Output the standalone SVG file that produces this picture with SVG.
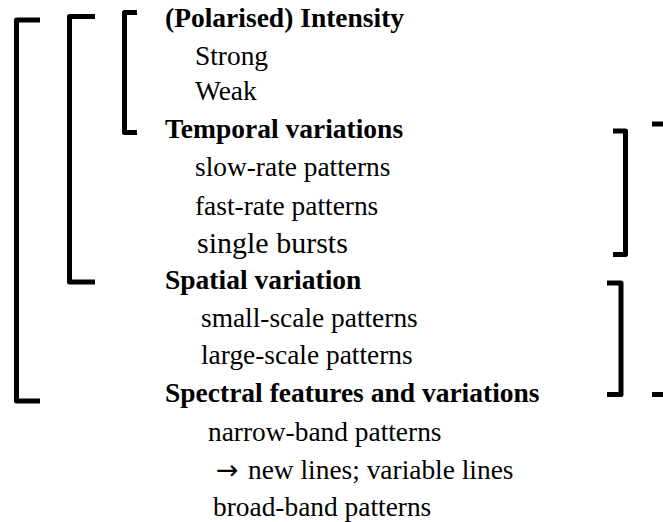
<svg xmlns="http://www.w3.org/2000/svg" width="663" height="522" viewBox="0 0 663 522">
  <style>
    .br { fill: none; stroke: #000; stroke-width: 5; stroke-linejoin: round; stroke-linecap: butt; }
    text { font-family: "Liberation Serif", Tinos, "Times New Roman", Times, "DejaVu Serif", serif; fill: #000; }
    .h { font-size: 27.5px; font-weight: bold; }
    .t { font-size: 27.4px; }
    .arr { font-family: "DejaVu Sans", sans-serif; font-size: 27px; }
  </style>
  <rect width="663" height="522" fill="#fff"/>

  <!-- bracket connectors grouping the categories -->
  <g id="connectors">
    <path class="br" d="M40,20 H16.5 V401 H40"/>
    <path class="br" d="M95,16.5 H69.5 V282 H95"/>
    <path class="br" d="M137,12.5 H124.5 V132.5 H137"/>
    <path class="br" d="M613,131 H625.5 V254.5 H613"/>
    <path class="br" d="M607,283 H621 V394.5 H607"/>
    <path class="br" d="M652,124 H663"/>
    <path class="br" d="M652,394.5 H663"/>
  </g>

  <g id="intensity">
    <text class="h" x="165" y="27">(Polarised) Intensity</text>
    <text class="t" x="195" y="65">Strong</text>
    <text class="t" x="195" y="100">Weak</text>
  </g>

  <g id="temporal">
    <text class="h" x="165" y="138">Temporal variations</text>
    <text class="t" x="195" y="176">slow-rate patterns</text>
    <text class="t" x="195" y="215">fast-rate patterns</text>
    <text class="t" x="197" y="253" style="font-size:30px">single bursts</text>
  </g>

  <g id="spatial">
    <text class="h" x="165" y="289">Spatial variation</text>
    <text class="t" x="201" y="327">small-scale patterns</text>
    <text class="t" x="201" y="364">large-scale patterns</text>
  </g>

  <g id="spectral">
    <text class="h" x="165" y="402">Spectral features and variations</text>
    <text class="t" x="208" y="441">narrow-band patterns</text>
    <text class="t" x="216" y="479"><tspan class="arr">→</tspan><tspan x="248">new lines; variable lines</tspan></text>
    <text class="t" x="213" y="516">broad-band patterns</text>
  </g>
</svg>
